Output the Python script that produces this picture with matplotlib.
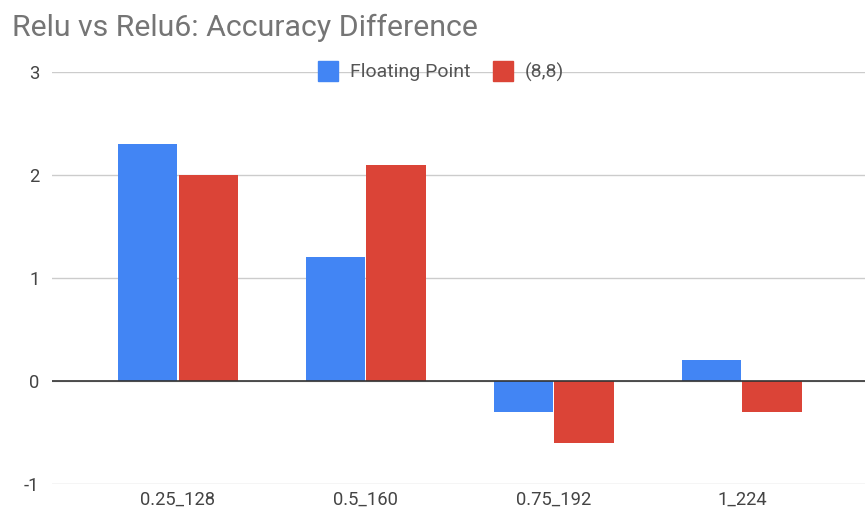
import matplotlib
matplotlib.use("Agg")
import matplotlib.pyplot as plt
from matplotlib.lines import Line2D
import numpy as np

categories = ["0.25_128", "0.5_160", "0.75_192", "1_224"]
floating_point = [2.3, 1.2, -0.3, 0.2]
fixed_8_8 = [2.0, 2.1, -0.6, -0.3]
series_names = ["Floating Point", "(8,8)"]
yticks = [-1, 0, 1, 2, 3]

BLUE = "#4285F4"
RED = "#DB4437"

plt.rcParams['font.family'] = ['Roboto', 'DejaVu Sans']

fig = plt.figure(figsize=(8.65, 5.13), dpi=100)
ax = fig.add_axes([52/865, 1-484/513, 1-52/865, (484-72)/513])

x = np.arange(len(categories))
w = 0.316
ax.bar(x - w/2 - 0.003, floating_point, w, color=BLUE, zorder=3)
ax.bar(x + w/2 + 0.003, fixed_8_8, w, color=RED, zorder=3)

ax.set_xlim(-0.67, 3.655)
ax.set_ylim(-1, 3)
ax.set_yticks(yticks)
ax.set_yticklabels([str(t) for t in yticks])
ax.set_xticks(x)
ax.set_xticklabels(categories)
ax.tick_params(axis='both', length=0, labelsize=13.2, colors="#444444")
ax.tick_params(axis='y', pad=9)
ax.tick_params(axis='x', pad=5)
for s in ax.spines.values():
    s.set_visible(False)
ax.grid(axis='y', color="#cccccc", linewidth=1, zorder=0)
ax.axhline(0, color="#333333", linewidth=1.2, zorder=4)

handles = [Line2D([0], [0], marker='s', linestyle='none', markersize=14,
                  markerfacecolor=c, markeredgecolor=c) for c in (BLUE, RED)]
leg = ax.legend(handles, series_names, loc='center', bbox_to_anchor=(0.479, 1.0),
                ncol=2, frameon=False, fontsize=14, handlelength=1.0,
                handletextpad=0.6, columnspacing=1.2)
for t in leg.get_texts():
    t.set_color("#555555")

fig.text(12/865, 1-36/513, "Relu vs Relu6: Accuracy Difference", fontsize=21.8,
         color="#757575", ha='left', va='baseline')

fig.savefig("out.png", dpi=100)
